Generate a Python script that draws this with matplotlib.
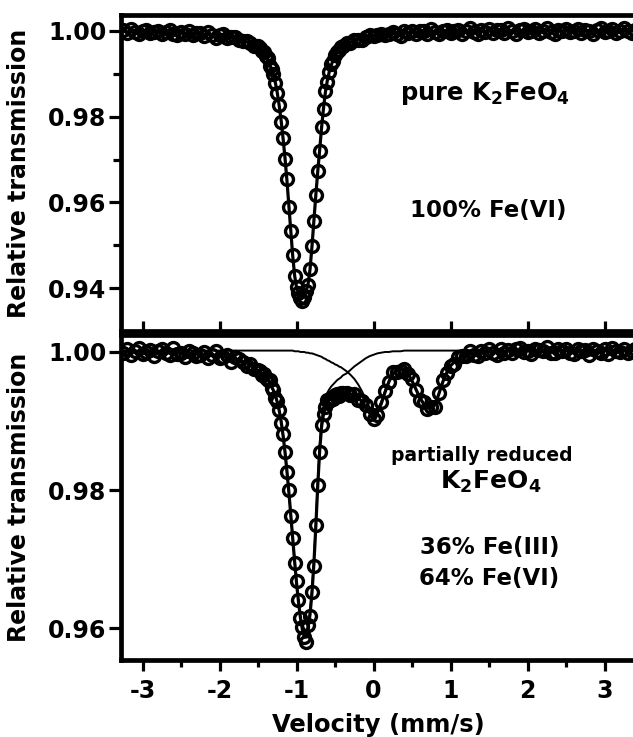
import matplotlib
matplotlib.use("Agg")
import matplotlib.pyplot as plt
from matplotlib.ticker import FixedLocator

plt.rcParams['font.family'] = ['DejaVu Sans']
plt.rcParams['font.weight'] = 'bold'
plt.rcParams['axes.labelweight'] = 'bold'
plt.rcParams['mathtext.fontset'] = 'dejavusans'
plt.rcParams['mathtext.default'] = 'bf'
plt.rcParams['axes.unicode_minus'] = False

# Doppler velocity of each channel (mm/s)
velocity = [
    -3.25, -3.20, -3.15, -3.10, -3.05, -3.00, -2.95, -2.90, -2.85, -2.80,
    -2.75, -2.70, -2.65, -2.60, -2.55, -2.50, -2.45, -2.40, -2.35, -2.30,
    -2.25, -2.20, -2.15, -2.10, -2.05, -2.00, -1.95, -1.90, -1.85, -1.80,
    -1.75, -1.70, -1.65, -1.60, -1.55, -1.50,
    -1.475, -1.450, -1.425, -1.400, -1.375, -1.350, -1.325, -1.300, -1.275, -1.250,
    -1.225, -1.200, -1.175, -1.150, -1.125, -1.100, -1.075, -1.050, -1.025, -1.000,
    -0.975, -0.950, -0.925, -0.900, -0.875, -0.850, -0.825, -0.800, -0.775, -0.750,
    -0.725, -0.700, -0.675, -0.650, -0.625, -0.600, -0.575, -0.550, -0.525, -0.500,
    -0.475, -0.450, -0.425, -0.400,
    -0.35, -0.30, -0.25, -0.20, -0.15, -0.10, -0.05, 0.00, 0.05, 0.10,
    0.15, 0.20, 0.25, 0.30, 0.35, 0.40, 0.45, 0.50, 0.55, 0.60,
    0.65, 0.70, 0.75, 0.80, 0.85, 0.90, 0.95, 1.00, 1.05, 1.10,
    1.15, 1.20, 1.25, 1.30, 1.35, 1.40, 1.45, 1.50, 1.55, 1.60,
    1.65, 1.70, 1.75, 1.80, 1.85, 1.90, 1.95, 2.00, 2.05, 2.10,
    2.15, 2.20, 2.25, 2.30, 2.35, 2.40, 2.45, 2.50, 2.55, 2.60,
    2.65, 2.70, 2.75, 2.80, 2.85, 2.90, 2.95, 3.00, 3.05, 3.10,
    3.15, 3.20, 3.25, 3.30, 3.35, 3.40,
]

# Pure K2FeO4: measured transmission and fitted singlet
trans_pure = [
    1.0002, 0.9995, 1.0004, 0.9997, 0.9992, 1.0000, 1.0003, 0.9995, 0.9998, 1.0001,
    0.9992, 0.9998, 1.0003, 0.9994, 0.9990, 0.9998, 0.9994, 0.9999, 0.9990, 0.9996,
    0.9996, 0.9988, 0.9998, 0.9990, 0.9984, 0.9990, 0.9993, 0.9983, 0.9985, 0.9987,
    0.9979, 0.9977, 0.9977, 0.9971, 0.9966, 0.9965,
    0.9961, 0.9953, 0.9951, 0.9942, 0.9938, 0.9919, 0.9911, 0.9899, 0.9878, 0.9856,
    0.9827, 0.9788, 0.9750, 0.9702, 0.9654, 0.9590, 0.9533, 0.9477, 0.9428, 0.9402,
    0.9388, 0.9376, 0.9370, 0.9379, 0.9394, 0.9407, 0.9444, 0.9499, 0.9556, 0.9618,
    0.9674, 0.9720, 0.9776, 0.9819, 0.9861, 0.9882, 0.9905, 0.9922, 0.9931, 0.9943,
    0.9952, 0.9955, 0.9963, 0.9965,
    0.9972, 0.9972, 0.9980, 0.9980, 0.9980, 0.9986, 0.9990, 0.9988, 0.9990, 0.9993,
    0.9990, 0.9994, 0.9998, 0.9993, 0.9989, 0.9999, 0.9995, 1.0001, 0.9993, 0.9999,
    1.0000, 0.9993, 1.0004, 0.9997, 0.9992, 1.0000, 1.0003, 0.9996, 0.9999, 1.0003,
    0.9994, 1.0000, 1.0006, 0.9997, 0.9993, 1.0002, 0.9998, 1.0005, 0.9996, 1.0002,
    1.0003, 0.9996, 1.0006, 0.9999, 0.9994, 1.0002, 1.0005, 0.9997, 1.0000, 1.0004,
    0.9995, 1.0001, 1.0007, 0.9998, 0.9994, 1.0003, 0.9999, 1.0004, 0.9997, 1.0001,
    1.0005, 0.9995, 1.0003, 1.0000, 0.9993, 1.0002, 1.0006, 0.9998, 1.0001, 1.0004,
    0.9996, 0.9999, 1.0006, 1.0000, 0.9995, 1.0003,
]
fit_pure = [
    0.9999, 0.9998, 0.9998, 0.9998, 0.9998, 0.9998, 0.9998, 0.9998, 0.9998, 0.9997,
    0.9997, 0.9997, 0.9996, 0.9996, 0.9996, 0.9995, 0.9995, 0.9994, 0.9994, 0.9994,
    0.9993, 0.9992, 0.9992, 0.9991, 0.9990, 0.9989, 0.9988, 0.9986, 0.9985, 0.9983,
    0.9981, 0.9978, 0.9975, 0.9972, 0.9968, 0.9963,
    0.9959, 0.9955, 0.9950, 0.9943, 0.9935, 0.9922, 0.9911, 0.9897, 0.9879, 0.9855,
    0.9825, 0.9790, 0.9749, 0.9703, 0.9651, 0.9593, 0.9533, 0.9475, 0.9429, 0.9401,
    0.9388, 0.9384, 0.9384, 0.9386, 0.9393, 0.9410, 0.9444, 0.9497, 0.9557, 0.9617,
    0.9672, 0.9722, 0.9775, 0.9820, 0.9858, 0.9885, 0.9905, 0.9920, 0.9932, 0.9942,
    0.9950, 0.9957, 0.9962, 0.9966,
    0.9970, 0.9974, 0.9977, 0.9980, 0.9983, 0.9985, 0.9987, 0.9989, 0.9990, 0.9991,
    0.9992, 0.9993, 0.9994, 0.9995, 0.9995, 0.9996, 0.9996, 0.9996, 0.9997, 0.9997,
    0.9997, 0.9997, 0.9998, 0.9998, 0.9998, 0.9998, 0.9998, 0.9999,
] + [0.9999] * 9 + [1.0000] * 39

# Partially reduced K2FeO4: measured transmission, total fit and the two sub-spectra
trans_reduced = [
    0.9999, 1.0005, 0.9996, 1.0001, 1.0006, 0.9997, 1.0000, 1.0003, 0.9994, 1.0001,
    1.0004, 0.9998, 0.9995, 1.0006, 0.9997, 0.9999, 0.9993, 1.0002, 0.9999, 0.9994,
    0.9995, 1.0000, 0.9991, 0.9996, 1.0001, 0.9991, 0.9993, 0.9995, 0.9985, 0.9992,
    0.9990, 0.9985, 0.9980, 0.9983, 0.9975, 0.9974,
    0.9972, 0.9967, 0.9968, 0.9963, 0.9959, 0.9959, 0.9948, 0.9945, 0.9934, 0.9929,
    0.9916, 0.9897, 0.9881, 0.9855, 0.9826, 0.9800, 0.9762, 0.9731, 0.9694, 0.9668,
    0.9640, 0.9615, 0.9602, 0.9587, 0.9580, 0.9604, 0.9618, 0.9652, 0.9690, 0.9749,
    0.9807, 0.9855, 0.9894, 0.9910, 0.9920, 0.9930, 0.9929, 0.9934, 0.9932, 0.9938,
    0.9939, 0.9936, 0.9941, 0.9940,
    0.9941, 0.9937, 0.9939, 0.9931, 0.9929, 0.9923, 0.9910, 0.9903, 0.9909, 0.9927,
    0.9943, 0.9956, 0.9971, 0.9971, 0.9972, 0.9975, 0.9968, 0.9961, 0.9945, 0.9930,
    0.9927, 0.9918, 0.9920, 0.9921, 0.9941, 0.9960, 0.9969, 0.9980, 0.9982, 0.9992,
    0.9994, 0.9994, 1.0002, 0.9995, 0.9994, 1.0001, 0.9999, 1.0004, 0.9999, 0.9995,
    1.0004, 0.9998, 1.0003, 0.9998, 1.0004, 1.0006, 1.0000, 1.0002, 0.9997, 1.0005,
    1.0003, 1.0001, 1.0007, 0.9999, 0.9998, 1.0004, 1.0001, 1.0005, 0.9998, 0.9997,
    1.0004, 1.0001, 1.0003, 0.9996, 1.0005, 1.0002, 0.9999, 1.0004, 0.9997, 1.0006,
    1.0002, 1.0000, 1.0005, 0.9998, 1.0001, 1.0004,
]
fit_reduced = [
    1.0001, 1.0001, 1.0001, 1.0000, 1.0000, 1.0000, 1.0000, 1.0000, 1.0000, 0.9999,
    0.9999, 0.9999, 0.9999, 0.9999, 0.9999, 0.9998, 0.9998, 0.9998, 0.9997, 0.9997,
    0.9997, 0.9996, 0.9996, 0.9995, 0.9995, 0.9994, 0.9993, 0.9992, 0.9991, 0.9990,
    0.9988, 0.9986, 0.9984, 0.9981, 0.9977, 0.9973,
    0.9971, 0.9969, 0.9966, 0.9963, 0.9960, 0.9956, 0.9950, 0.9944, 0.9937, 0.9927,
    0.9915, 0.9899, 0.9879, 0.9855, 0.9827, 0.9797, 0.9764, 0.9730, 0.9696, 0.9665,
    0.9638, 0.9615, 0.9598, 0.9587, 0.9587, 0.9601, 0.9620, 0.9651, 0.9693, 0.9747,
    0.9806, 0.9857, 0.9892, 0.9910, 0.9921, 0.9927, 0.9931, 0.9933, 0.9935, 0.9936,
    0.9938, 0.9938, 0.9939, 0.9940,
    0.9939, 0.9939, 0.9938, 0.9934, 0.9928, 0.9920, 0.9911, 0.9906, 0.9912, 0.9925,
    0.9942, 0.9957, 0.9968, 0.9973, 0.9975, 0.9974, 0.9968, 0.9958, 0.9946, 0.9934,
    0.9925, 0.9920, 0.9919, 0.9924, 0.9940, 0.9957, 0.9970, 0.9980, 0.9986, 0.9990,
    0.9993, 0.9995, 0.9997, 0.9998, 0.9998, 0.9999, 0.9999, 1.0000, 1.0001, 1.0001,
    1.0001, 1.0001,
] + [1.0002] * 34
fit_fe6 = [
    1.0001, 1.0001, 1.0001, 1.0000, 1.0000, 1.0000, 1.0000, 1.0000, 1.0000, 0.9999,
    0.9999, 0.9999, 0.9999, 0.9999, 0.9999, 0.9998, 0.9998, 0.9998, 0.9997, 0.9997,
    0.9997, 0.9996, 0.9996, 0.9995, 0.9995, 0.9994, 0.9993, 0.9992, 0.9991, 0.9990,
    0.9988, 0.9986, 0.9984, 0.9981, 0.9977, 0.9973,
    0.9971, 0.9969, 0.9966, 0.9963, 0.9960, 0.9956, 0.9950, 0.9944, 0.9937, 0.9927,
    0.9915, 0.9899, 0.9879, 0.9855, 0.9827, 0.9797, 0.9764, 0.9730, 0.9697, 0.9666,
    0.9639, 0.9617, 0.9600, 0.9589, 0.9590, 0.9604, 0.9624, 0.9655, 0.9698, 0.9753,
    0.9813, 0.9865, 0.9901, 0.9921, 0.9933, 0.9941, 0.9946, 0.9950, 0.9953, 0.9956,
    0.9959, 0.9961, 0.9963, 0.9966,
    0.9969, 0.9974, 0.9979, 0.9983, 0.9987, 0.9991, 0.9994, 0.9996, 0.9998, 0.9999,
    1.0000, 1.0000, 1.0001, 1.0001, 1.0001,
] + [1.0002] * 61
fit_fe3 = [1.0002] * 36 + [1.0002] * 18 + [
    1.0001, 1.0001, 1.0001, 1.0000, 1.0000, 1.0000, 0.9999, 0.9999, 0.9998, 0.9998,
    0.9997, 0.9996, 0.9995, 0.9994, 0.9993, 0.9991, 0.9990, 0.9988, 0.9987, 0.9985,
    0.9984, 0.9982, 0.9981, 0.9979, 0.9978, 0.9976,
    0.9972, 0.9967, 0.9961, 0.9953, 0.9943, 0.9931, 0.9919, 0.9912, 0.9916, 0.9928,
    0.9944, 0.9959, 0.9969, 0.9974, 0.9976, 0.9974, 0.9968, 0.9958, 0.9946, 0.9934,
    0.9925, 0.9920, 0.9919, 0.9924, 0.9940, 0.9957, 0.9970, 0.9980, 0.9986, 0.9990,
    0.9993, 0.9995, 0.9997, 0.9998, 0.9998, 0.9999, 0.9999, 1.0000, 1.0001, 1.0001,
    1.0001, 1.0001,
] + [1.0002] * 34

x_ticks = [-3, -2, -1, 0, 1, 2, 3]
x_minor = [-2.5, -1.5, -0.5, 0.5, 1.5, 2.5]
top_yticks = [0.94, 0.96, 0.98, 1.00]
top_yminor = [0.95, 0.97, 0.99]
bot_yticks = [0.96, 0.98, 1.00]

W, H = 633, 737
fig = plt.figure(figsize=(W / 100, H / 100), dpi=100)

left_px, right_px = 121, 636
ax1 = fig.add_axes([left_px / W, (H - 331) / H, (right_px - left_px) / W, (331 - 15) / H])
ax2 = fig.add_axes([left_px / W, (H - 660) / H, (right_px - left_px) / W, (660 - 335) / H])

marker_kw = dict(linestyle='none', marker='o', markersize=8.6, markerfacecolor='none',
                 markeredgecolor='black', markeredgewidth=2.4, zorder=2)

ax1.plot(velocity, trans_pure, **marker_kw)
ax1.plot(velocity, fit_pure, color='black', lw=2.3, zorder=3)

ax2.plot(velocity, trans_reduced, **marker_kw)
ax2.plot(velocity, fit_fe6, color='black', lw=1.4, zorder=3)
ax2.plot(velocity, fit_fe3, color='black', lw=1.4, zorder=3)
ax2.plot(velocity, fit_reduced, color='black', lw=2.3, zorder=4)

for ax in (ax1, ax2):
    ax.set_xlim(-3.28, 3.408)
    for sp in ax.spines.values():
        sp.set_linewidth(3.4)
    ax.tick_params(axis='y', which='major', direction='out', length=8.5, width=2.3,
                   labelsize=17, pad=2, right=False)
    ax.tick_params(axis='y', which='minor', direction='out', length=6, width=2.3, right=False)
    ax.set_ylabel("Relative transmission", fontsize=17, fontweight='bold')
    ax.yaxis.label.set_va('center')
    ax.yaxis.set_label_coords(-0.198, 0.5)

ax1.set_ylim(0.92998, 1.00373)
ax1.yaxis.set_major_locator(FixedLocator(top_yticks))
ax1.yaxis.set_minor_locator(FixedLocator(top_yminor))
ax1.set_yticklabels([f"{v:.2f}" for v in top_yticks])
ax1.xaxis.set_major_locator(FixedLocator(x_ticks))
ax1.tick_params(axis='x', which='major', direction='in', length=7, width=2.3,
                labelbottom=False, top=False)

ax2.set_ylim(0.95537, 1.00246)
ax2.yaxis.set_major_locator(FixedLocator(bot_yticks))
ax2.set_yticklabels([f"{v:.2f}" for v in bot_yticks])
ax2.xaxis.set_major_locator(FixedLocator(x_ticks))
ax2.xaxis.set_minor_locator(FixedLocator(x_minor))
ax2.set_xticklabels([str(v) for v in x_ticks])
ax2.tick_params(axis='x', which='major', direction='out', length=8, width=2.3,
                labelsize=17, pad=6, top=False)
ax2.tick_params(axis='x', which='minor', direction='out', length=5, width=2.3, top=False)
ax2.set_xlabel("Velocity (mm/s)", fontsize=17.5, fontweight='bold')
ax2.xaxis.label.set_va('center')
ax2.xaxis.set_label_coords(0.5, -0.2)

ax1.text(1.447, 0.9853, "pure K$_2$FeO$_4$", fontsize=17.5, fontweight='bold',
         ha='center', va='center')
ax1.text(1.486, 0.9580, "100% Fe(VI)", fontsize=16.5, fontweight='bold',
         ha='center', va='center')

ax2.text(1.408, 0.98507, "partially reduced", fontsize=13.5, fontweight='bold',
         ha='center', va='center')
ax2.text(1.525, 0.98116, "K$_2$FeO$_4$", fontsize=18, fontweight='bold',
         ha='center', va='center')
ax2.text(1.512, 0.9716, "36% Fe(III)", fontsize=16.5, fontweight='bold',
         ha='center', va='center')
ax2.text(1.499, 0.96725, "64% Fe(VI)", fontsize=16.5, fontweight='bold',
         ha='center', va='center')

fig.savefig("out.png", dpi=100)
